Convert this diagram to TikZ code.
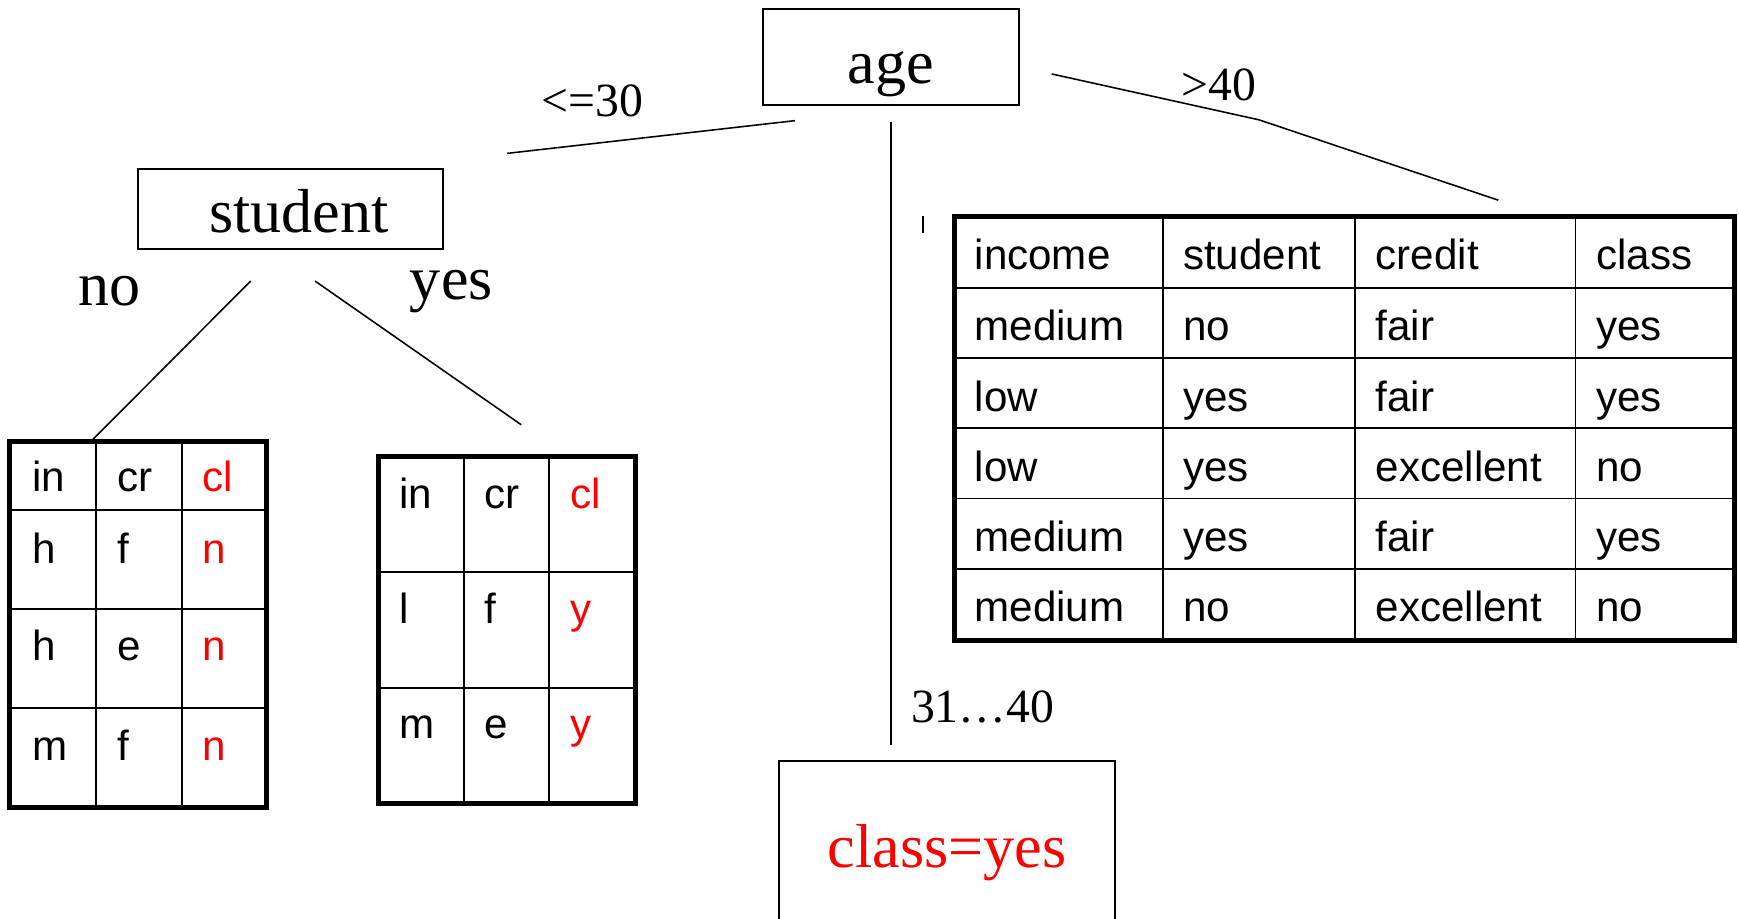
\documentclass[tikz,border=0pt]{standalone}
\usepackage{fontspec}
\setmainfont{Liberation Serif}
\newfontfamily\tabfont{Liberation Sans}

\begin{document}
\begin{tikzpicture}
  [x=0.5pt, y=-0.5pt,
   box/.style={draw, line width=1pt, inner sep=0pt, text depth=0pt,
     font=\fontsize{28}{30}\selectfont},
   connect/.style={line width=0.7pt},
   branch/.style={anchor=base, inner sep=0pt, font=\fontsize{21.5}{24}\selectfont},
   answer/.style={anchor=base, inner sep=0pt, font=\fontsize{28}{30}\selectfont},
   cell/.style={anchor=base west, inner sep=0pt, font=\tabfont\fontsize{19}{22}\selectfont},
   frame/.style={line width=2.25pt},
   rule/.style={line width=0.8pt}]
  \path[use as bounding box] (0,0) rectangle (1568,828);
  \clip (0,0) rectangle (1568,828);

  % tree nodes
  \node[box, minimum width=115.7pt, minimum height=43.3pt, text height=23.6pt]
    (age) at (803.4,51.4) {age};
  \node[box, minimum width=137.5pt, minimum height=36pt, text height=21.5pt]
    (student) at (262,188.5) {\hspace*{7.5pt}student};
  \node[box, text=red, minimum width=151.5pt, minimum height=86.9pt, text height=9.3pt]
    (leaf) at (854,773.1) {class=yes};

  % branch labels
  \node[branch] (le30) at (534.4,104.6) {<=30};
  \node[branch] (gt40) at (1099,90.2) {>40};
  \node[branch] (mid) at (886,651.6) {31…40};
  \node[answer] (no) at (99,275.6) {no};
  \node[answer] (yes) at (407,270.5) {yes};

  % connector ends
  \coordinate (a1) at (716.7,108.8);
  \coordinate (s0) at (457.3,138.3);
  \coordinate (a2) at (803.4,109.7);
  \coordinate (c0) at (803.4,671.8);
  \coordinate (a3) at (948.3,66.7);
  \coordinate (bend) at (1135,108);
  \coordinate (t0) at (1351,180.5);
  \coordinate (s1) at (226,253.4);
  \coordinate (l0) at (84,396);
  \coordinate (s2) at (284,253.4);
  \coordinate (m0) at (470,383);
  \coordinate (tick1) at (832,195);
  \coordinate (tick2) at (832,210);

  \draw[connect] (a1) -- (s0);
  \draw[connect] (a2) -- (c0);
  \draw[connect] (a3) -- (bend) -- (t0);
  \draw[connect] (s1) -- (l0);
  \draw[connect] (s2) -- (m0);
  \draw[connect] (tick1) -- (tick2);

  % left table
  \draw[rule] \foreach \x in {86.5,163.9} {(\x,397.7) -- (\x,728.3)}
              \foreach \y in {459.9,549.4,638.7} {(8.5,\y) -- (240,\y)};
  \draw[frame] (8.5,397.7) rectangle (240,728.3);
  \foreach \a/\b/\c/\y [count=\r] in {in/cr/cl/443.4, h/f/n/508, h/e/n/595.8, m/f/n/685.3}
  {
    \node[cell] (L\r-1) at (28.5,\y) {\a};
    \node[cell] (L\r-2) at (105.5,\y) {\b};
    \node[cell, text=red] (L\r-3) at (182.2,\y) {\c};
  }

  % middle table
  \draw[rule] \foreach \x in {418.6,495.3} {(\x,411.8) -- (\x,724.4)}
              \foreach \y in {516,620} {(341.6,\y) -- (573,\y)};
  \draw[frame] (341.6,411.8) rectangle (573,724.4);
  \foreach \a/\b/\c/\y [count=\r] in {in/cr/cl/458.4, l/f/y/562, m/e/y/665.7}
  {
    \node[cell] (M\r-1) at (359.8,\y) {\a};
    \node[cell] (M\r-2) at (436.4,\y) {\b};
    \node[cell, text=red] (M\r-3) at (514.2,\y) {\c};
  }

  % right table
  \draw[rule] \foreach \x in {1048.4,1221.8,1420.5} {(\x,195.4) -- (\x,577.1)}
              \foreach \y in {259.4,323.1,386.2,449.4,513.1} {(860.2,\y) -- (1564,\y)};
  \draw[frame] (860.2,195.4) rectangle (1564,577.1);
  \foreach \a/\b/\c/\d/\y [count=\r] in {income/student/credit/class/243.4,
      medium/no/fair/yes/307, low/yes/fair/yes/370.6, low/yes/excellent/no/433.8,
      medium/yes/fair/yes/497, medium/no/excellent/no/560.6}
  {
    \node[cell] (R\r-1) at (878.4,\y) {\a};
    \node[cell] (R\r-2) at (1066.4,\y) {\b};
    \node[cell] (R\r-3) at (1240,\y) {\c};
    \node[cell] (R\r-4) at (1439,\y) {\d};
  }
\end{tikzpicture}
\end{document}
